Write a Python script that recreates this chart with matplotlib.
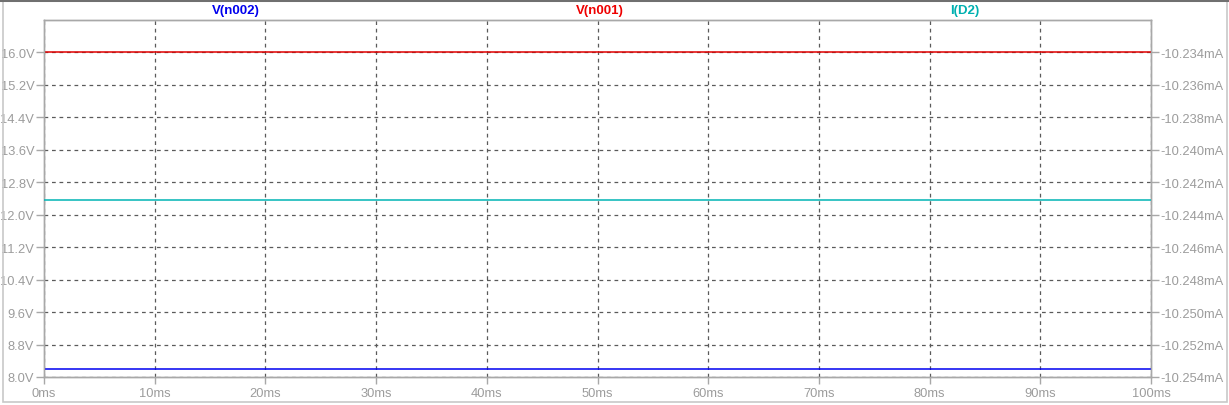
import matplotlib
matplotlib.use("Agg")
import matplotlib.pyplot as plt
from matplotlib.patches import Rectangle
from matplotlib.ticker import FixedLocator, FuncFormatter

# data
time_ms = [0, 100]
v_n001 = [16.0, 16.0]          # V
v_n002 = [8.19, 8.19]          # V
i_d2 = [-10.2431, -10.2431]    # mA

v_ticks = [8.0, 8.8, 9.6, 10.4, 11.2, 12.0, 12.8, 13.6, 14.4, 15.2, 16.0]
i_ticks = [-10.254, -10.252, -10.250, -10.248, -10.246, -10.244,
           -10.242, -10.240, -10.238, -10.236, -10.234]
t_ticks = list(range(0, 101, 10))

TXT = "#9c9c9c"
GRID = "#5a5a5a"
FRAME = "#a8a8a8"
plt.rcParams["font.family"] = ["Liberation Sans", "DejaVu Sans"]

fig = plt.figure(figsize=(12.29, 4.06), dpi=100)
W, H = 1229, 406
ax = fig.add_axes([44 / W, (H - 378) / H, (1151 - 44) / W, (378 - 20.7) / H])

ax.set_xlim(0, 100)
ax.set_ylim(8.0, 16.8)
ax.xaxis.set_major_locator(FixedLocator(t_ticks))
ax.yaxis.set_major_locator(FixedLocator(v_ticks))
ax.xaxis.set_major_formatter(FuncFormatter(lambda v, p: f"{v:.0f}ms"))
ax.yaxis.set_major_formatter(FuncFormatter(lambda v, p: f"{v:.1f}V"))

ax2 = ax.twinx()
i_lo = -10.254
i_hi = i_lo + (16.8 - 8.0) / 0.8 * 0.002
ax2.set_ylim(i_lo, i_hi)
ax2.yaxis.set_major_locator(FixedLocator(i_ticks))
ax2.yaxis.set_major_formatter(FuncFormatter(lambda v, p: f"{v:.3f}mA"))

for a in (ax, ax2):
    for s in a.spines.values():
        s.set_color(FRAME)
        s.set_linewidth(1)
    a.tick_params(axis="y", colors=FRAME, labelcolor=TXT, length=5.5, width=1,
                  labelsize=9.3, pad=1.5, direction="out")
ax.tick_params(axis="x", colors=FRAME, labelcolor=TXT, length=5, width=1,
               labelsize=9.3, pad=2.5, direction="out")

ax.grid(True, color=GRID, linestyle=(0, (3, 3)), linewidth=0.9)
ax.set_axisbelow(True)

ax.plot(time_ms, v_n001, color="#e00000", lw=1.1, zorder=3)
ax.plot(time_ms, v_n002, color="#0000f0", lw=1.1, zorder=3)
ax2.plot(time_ms, i_d2, color="#00b4b4", lw=1.1, zorder=3)

labels = [("V(n002)", "#0000ee", 17.3), ("V(n001)", "#ee0000", 50.2),
          ("I(D2)", "#00b0b0", 83.2)]
for txt, col, xpos in labels:
    ax.text(xpos, 1.01, txt, color=col, fontsize=9.5, fontweight="bold",
            ha="center", va="bottom", transform=ax.get_xaxis_transform())

# window frame
fig.patches.append(Rectangle((2.5 / W, 3 / H), (1226.5 - 2.5) / W, (404.5 - 3) / H,
                             transform=fig.transFigure, fill=False,
                             edgecolor="#c8c8c8", linewidth=1.2))
fig.add_artist(plt.Line2D([0, 1], [1 - 1.2 / H, 1 - 1.2 / H], color="#707070",
                          linewidth=2.2, transform=fig.transFigure))

fig.savefig("out.png", dpi=100)
